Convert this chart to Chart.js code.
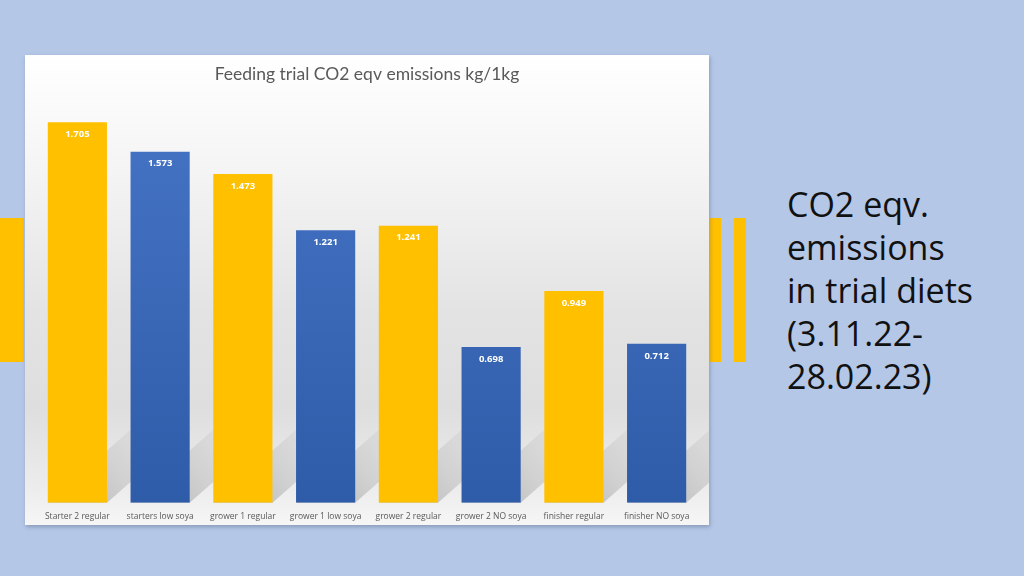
<!DOCTYPE html>
<html>
<head>
<meta charset="utf-8">
<script src="https://cdn.jsdelivr.net/npm/chart.js@4.4.1/dist/chart.umd.min.js"></script>
<style>
  html, body { margin: 0; padding: 0; width: 1024px; height: 576px; overflow: hidden; background: #B4C7E7; font-family: "Open Sans", Lato, sans-serif; }
  .accent { position: absolute; background: #FFC000; }
  #panel { position: absolute; left: 25px; top: 55px; width: 684px; height: 470px;
    background: linear-gradient(to bottom, #ffffff 0%, #f4f4f4 25%, #e3e3e3 55%, #dedede 75%, #ececec 92%, #f6f6f6 100%);
    box-shadow: 1px 2px 4px rgba(60,70,100,0.35); }
  #side { position: absolute; left: 787px; top: 183px; font-family: "Open Sans", Lato, sans-serif; font-size: 34px; line-height: 43px; color: #111; }
</style>
</head>
<body>
<div class="accent" style="left:0;top:218px;width:24px;height:144px"></div>
<div class="accent" style="left:710px;top:218px;width:11px;height:144px"></div>
<div class="accent" style="left:734px;top:218px;width:12px;height:144px"></div>
<div id="panel"><canvas id="c" width="684" height="470"></canvas></div>
<div id="side">CO2 eqv.<br>emissions<br>in trial diets<br>(3.11.22-<br>28.02.23)</div>
<script>
const categories = ["Starter 2 regular", "starters low soya", "grower 1 regular", "grower 1 low soya", "grower 2 regular", "grower 2 NO soya", "finisher regular", "finisher NO soya"];
const values = [1.705, 1.573, 1.473, 1.221, 1.241, 0.698, 0.949, 0.712];
const labels = ["1.705", "1.573", "1.473", "1.221", "1.241", "0.698", "0.949", "0.712"];
const chartTitle = "Feeding trial CO2 eqv emissions kg/1kg";

function barFill(ctx) {
  const chart = ctx.chart;
  const area = chart.chartArea;
  const yellow = ctx.dataIndex % 2 === 0;
  if (!area) return yellow ? "#FFC000" : "#4472C4";
  const g = chart.ctx.createLinearGradient(0, area.top, 0, area.bottom);
  if (yellow) { g.addColorStop(0, "#FFC000"); g.addColorStop(1, "#FFC000"); }
  else { g.addColorStop(0, "#4674C6"); g.addColorStop(1, "#2F5CA8"); }
  return g;
}

const shadowPlugin = {
  id: "shadows",
  beforeDatasetsDraw(chart) {
    const ctx = chart.ctx;
    const meta = chart.getDatasetMeta(0);
    ctx.save();
    meta.data.forEach((bar) => {
      const w = bar.width;
      const l = bar.x - w / 2, r = bar.x + w / 2, b = bar.base;
      const dx = 85, dy = 75;
      const g = ctx.createLinearGradient(r, b, r + dx * 0.6, b - dy);
      g.addColorStop(0, "rgba(110,110,110,0.32)");
      g.addColorStop(1, "rgba(170,170,170,0.06)");
      ctx.fillStyle = g;
      ctx.beginPath();
      ctx.moveTo(l, b);
      ctx.lineTo(r, b);
      ctx.lineTo(r + dx, b - dy);
      ctx.lineTo(l + dx, b - dy);
      ctx.closePath();
      ctx.fill();
    });
    ctx.restore();
  }
};

const labelPlugin = {
  id: "barLabels",
  afterDatasetsDraw(chart) {
    const ctx = chart.ctx;
    const meta = chart.getDatasetMeta(0);
    ctx.save();
    ctx.fillStyle = "#ffffff";
    ctx.font = "bold 9.5px 'Open Sans', sans-serif";
    ctx.textAlign = "center";
    ctx.textBaseline = "middle";
    meta.data.forEach((bar, i) => {
      ctx.fillText(labels[i], bar.x, bar.y + 12);
    });
    ctx.restore();
  }
};

new Chart(document.getElementById("c"), {
  type: "bar",
  data: {
    labels: categories,
    datasets: [{
      data: values,
      backgroundColor: barFill,
      borderWidth: 0,
      barPercentage: 1,
      categoryPercentage: 0.715
    }]
  },
  options: {
    responsive: false,
    animation: false,
    layout: { padding: { left: 11, right: 11, top: 9, bottom: 2 } },
    plugins: {
      legend: { display: false },
      tooltip: { enabled: false },
      title: {
        display: true,
        text: chartTitle,
        color: "#595959",
        font: { family: "Lato, 'Open Sans', sans-serif", size: 17.5, weight: "normal" },
        padding: { top: 0, bottom: 16 }
      }
    },
    scales: {
      y: { display: false, min: 0, max: 1.8 },
      x: {
        grid: { display: false, drawBorder: false },
        border: { display: false },
        ticks: { color: "#595959", font: { family: "'Open Sans', sans-serif", size: 8.5 }, padding: 1, maxRotation: 0, autoSkip: false }
      }
    }
  },
  plugins: [shadowPlugin, labelPlugin]
});
</script>
</body>
</html>
